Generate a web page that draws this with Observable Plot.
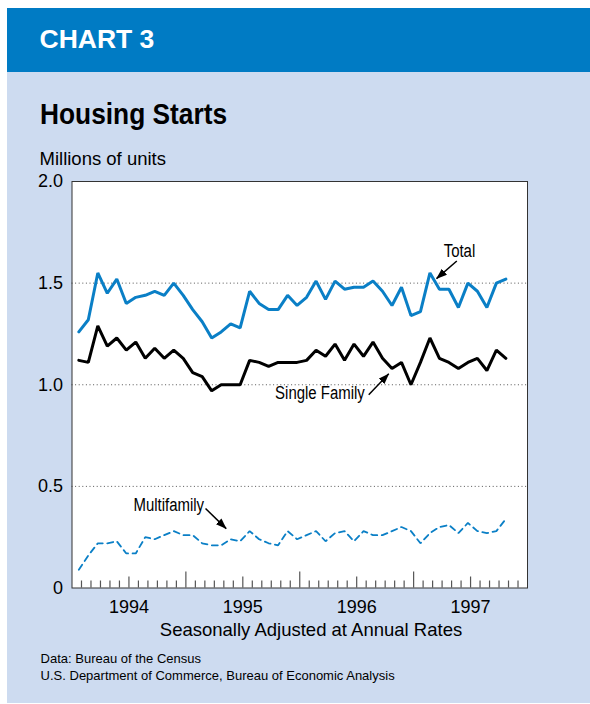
<!DOCTYPE html>
<html>
<head>
<meta charset="utf-8">
<script src="https://cdn.jsdelivr.net/npm/d3@7"></script>
<script src="https://cdn.jsdelivr.net/npm/@observablehq/plot@0.6"></script>
<style>
  body { margin: 0; background: #fff; width: 590px; height: 704px; position: relative; overflow: hidden;
         font-family: "Liberation Sans", Arial, Helvetica, sans-serif; }
  .abs { position: absolute; white-space: nowrap; line-height: 1; }
</style>
</head>
<body>
<div class="abs" style="left:7px;top:8px;width:583px;height:695px;background:#cddbf0"></div>
<div class="abs" style="left:7px;top:8px;width:583px;height:64px;background:#007bc4"></div>
<div class="abs" style="left:39.5px;top:25.9px;font-size:26.5px;font-weight:bold;color:#fff">CHART 3</div>
<div class="abs" style="left:40px;top:98.6px;font-size:30px;font-weight:bold;color:#000;transform:scaleX(0.877);transform-origin:0 0">Housing Starts</div>
<div class="abs" style="left:39.5px;top:150px;font-size:18.5px;color:#000">Millions of units</div>
<div id="chart" class="abs" style="left:0;top:165px"></div>
<div class="abs" style="left:311px;top:621.3px;font-size:18.5px;color:#000;transform:translateX(-50%)">Seasonally Adjusted at Annual Rates</div>
<div class="abs" style="left:40.6px;top:652.3px;font-size:13px;color:#000">Data: Bureau of the Census</div>
<div class="abs" style="left:40.6px;top:669px;font-size:13px;color:#000">U.S. Department of Commerce, Bureau of Economic Analysis</div>
<script>
// ---- data (millions of units, seasonally adjusted annual rates), Jan 1994 – Oct 1997 ----
const months = d3.utcMonth.range(new Date(Date.UTC(1994, 0, 1)), new Date(Date.UTC(1997, 10, 1)));
const total = [1.26, 1.32, 1.55, 1.45, 1.52, 1.40, 1.43, 1.44, 1.46, 1.44, 1.50, 1.44,
               1.37, 1.31, 1.23, 1.26, 1.30, 1.28, 1.46, 1.40, 1.37, 1.37, 1.44, 1.39,
               1.43, 1.51, 1.42, 1.51, 1.47, 1.48, 1.48, 1.51, 1.46, 1.39, 1.48, 1.34,
               1.36, 1.55, 1.47, 1.47, 1.38, 1.50, 1.46, 1.38, 1.50, 1.52];
const singleFamily = [1.12, 1.11, 1.29, 1.19, 1.23, 1.17, 1.21, 1.13, 1.18, 1.13, 1.17, 1.13,
                      1.06, 1.04, 0.97, 1.00, 1.00, 1.00, 1.12, 1.11, 1.09, 1.11, 1.11, 1.11,
                      1.12, 1.17, 1.14, 1.20, 1.12, 1.20, 1.14, 1.21, 1.13, 1.08, 1.11, 1.00,
                      1.11, 1.23, 1.13, 1.11, 1.08, 1.11, 1.13, 1.07, 1.17, 1.13];
const multifamily = [0.09, 0.16, 0.22, 0.22, 0.23, 0.17, 0.17, 0.25, 0.24, 0.26, 0.28, 0.26,
                     0.26, 0.22, 0.21, 0.21, 0.24, 0.23, 0.28, 0.24, 0.22, 0.21, 0.28, 0.24,
                     0.26, 0.28, 0.23, 0.27, 0.28, 0.23, 0.28, 0.26, 0.26, 0.28, 0.30, 0.28,
                     0.22, 0.27, 0.30, 0.31, 0.27, 0.32, 0.28, 0.27, 0.28, 0.34];
const yearLabels = ["1994", "1995", "1996", "1997"];
const yTicks = [0, 0.5, 1, 1.5, 2];
const gridValues = [0.5, 1, 1.5];
// annotations: label position and arrow (start -> tip), in chart units (months since Jan 1994, millions)
const annoLabels = ["Total", "Single Family", "Multifamily"];
const annoX = [40.83, 26.13, 10.2];
const annoY = [1.658, 0.959, 0.408];
const arrowX1 = [40.55, 31.27, 14.07];
const arrowY1 = [1.609, 0.951, 0.391];
const arrowX2 = [38.41, 33.38, 16.25];
const arrowY2 = [1.522, 1.054, 0.292];

// ---- derived tables ----
const pointOffset = 0.72; // where in each month the value is plotted
const rows = months.map((d, i) => ({
  x: (d.getUTCFullYear() - 1994) * 12 + d.getUTCMonth() + pointOffset,
  total: total[i], single: singleFamily[i], multi: multifamily[i]
}));
const nMonths = yearLabels.length * 12;
const monthTicks = d3.range(1, nMonths);
const minorTicks = monthTicks.filter(k => k % 6 !== 0);
const midTicks = monthTicks.filter(k => k % 12 === 6);
const yearTicks = monthTicks.filter(k => k % 12 === 0);
const yearLabelPos = yearLabels.map((_, i) => i * 12 + 6);
const annos = annoLabels.map((label, i) => ({
  label, tx: annoX[i], ty: annoY[i], sx: arrowX1[i], sy: arrowY1[i], ex: arrowX2[i], ey: arrowY2[i]
}));

const BLUE = "#0a7fc6";
const FONT = '"Liberation Sans", Arial, Helvetica, sans-serif';

function arrowHead(color, context) {
  const ns = "http://www.w3.org/2000/svg";
  const doc = (context && context.document) || document;
  const m = doc.createElementNS(ns, "marker");
  m.setAttribute("viewBox", "0 -4 11 8");
  m.setAttribute("refX", "10.5");
  m.setAttribute("refY", "0");
  m.setAttribute("markerWidth", "11");
  m.setAttribute("markerHeight", "8");
  m.setAttribute("markerUnits", "userSpaceOnUse");
  m.setAttribute("orient", "auto");
  const p = doc.createElementNS(ns, "path");
  p.setAttribute("d", "M0,-4L11,0L0,4Z");
  p.setAttribute("fill", "#000");
  p.setAttribute("stroke", "none");
  m.appendChild(p);
  return m;
}

const chart = Plot.plot({
  width: 590,
  height: 450,
  marginLeft: 71.5,
  marginRight: 63,
  marginTop: 16,
  marginBottom: 27.5,
  style: { fontFamily: FONT, fontSize: "18px", color: "#000", background: "transparent", overflow: "visible" },
  x: {
    domain: [0, nMonths],
    ticks: yearLabelPos,
    tickFormat: d => yearLabels[yearLabelPos.indexOf(d)],
    tickSize: 0, tickPadding: 12, label: null
  },
  y: {
    domain: [0, 2],
    ticks: yTicks,
    tickFormat: d => d === 0 ? "0" : d.toFixed(1),
    tickSize: 0, tickPadding: 9, label: null
  },
  marks: [
    Plot.frame({ fill: "white" }),
    Plot.ruleY(gridValues, { y: d => d, stroke: "#555", strokeWidth: 1, strokeDasharray: "1,2.6" }),
    Plot.ruleX(minorTicks, { x: d => d, y1: 0, y2: 0, insetTop: -7, stroke: "#555", strokeWidth: 1.2 }),
    Plot.ruleX(midTicks, { x: d => d, y1: 0, y2: 0, insetTop: -11, stroke: "#555", strokeWidth: 1.2 }),
    Plot.ruleX(yearTicks, { x: d => d, y1: 0, y2: 0, insetTop: -16, stroke: "#555", strokeWidth: 1.2 }),
    Plot.line(rows, { x: "x", y: "multi", stroke: BLUE, strokeWidth: 1.8, strokeDasharray: "6,4.5", strokeLinejoin: "miter" }),
    Plot.line(rows, { x: "x", y: "single", stroke: "#000", strokeWidth: 3, strokeLinejoin: "miter" }),
    Plot.line(rows, { x: "x", y: "total", stroke: BLUE, strokeWidth: 3, strokeLinejoin: "miter" }),
    Plot.link(annos, { x1: "sx", y1: "sy", x2: "ex", y2: "ey", stroke: "#000", strokeWidth: 1.5, markerEnd: arrowHead }),
    Plot.text(annos, { x: "tx", y: "ty", text: "label", fontSize: 18, textAnchor: "middle", lineAnchor: "middle", fill: "#000" }),
    Plot.frame({ stroke: "#333", strokeWidth: 1 })
  ]
});
document.getElementById("chart").appendChild(chart);
chart.querySelectorAll("text").forEach(t => {
  if (annoLabels.includes(t.textContent)) {
    const w = t.getComputedTextLength();
    t.setAttribute("textLength", (w * 0.83).toFixed(1));
    t.setAttribute("lengthAdjust", "spacingAndGlyphs");
  }
});
</script>
</body>
</html>
